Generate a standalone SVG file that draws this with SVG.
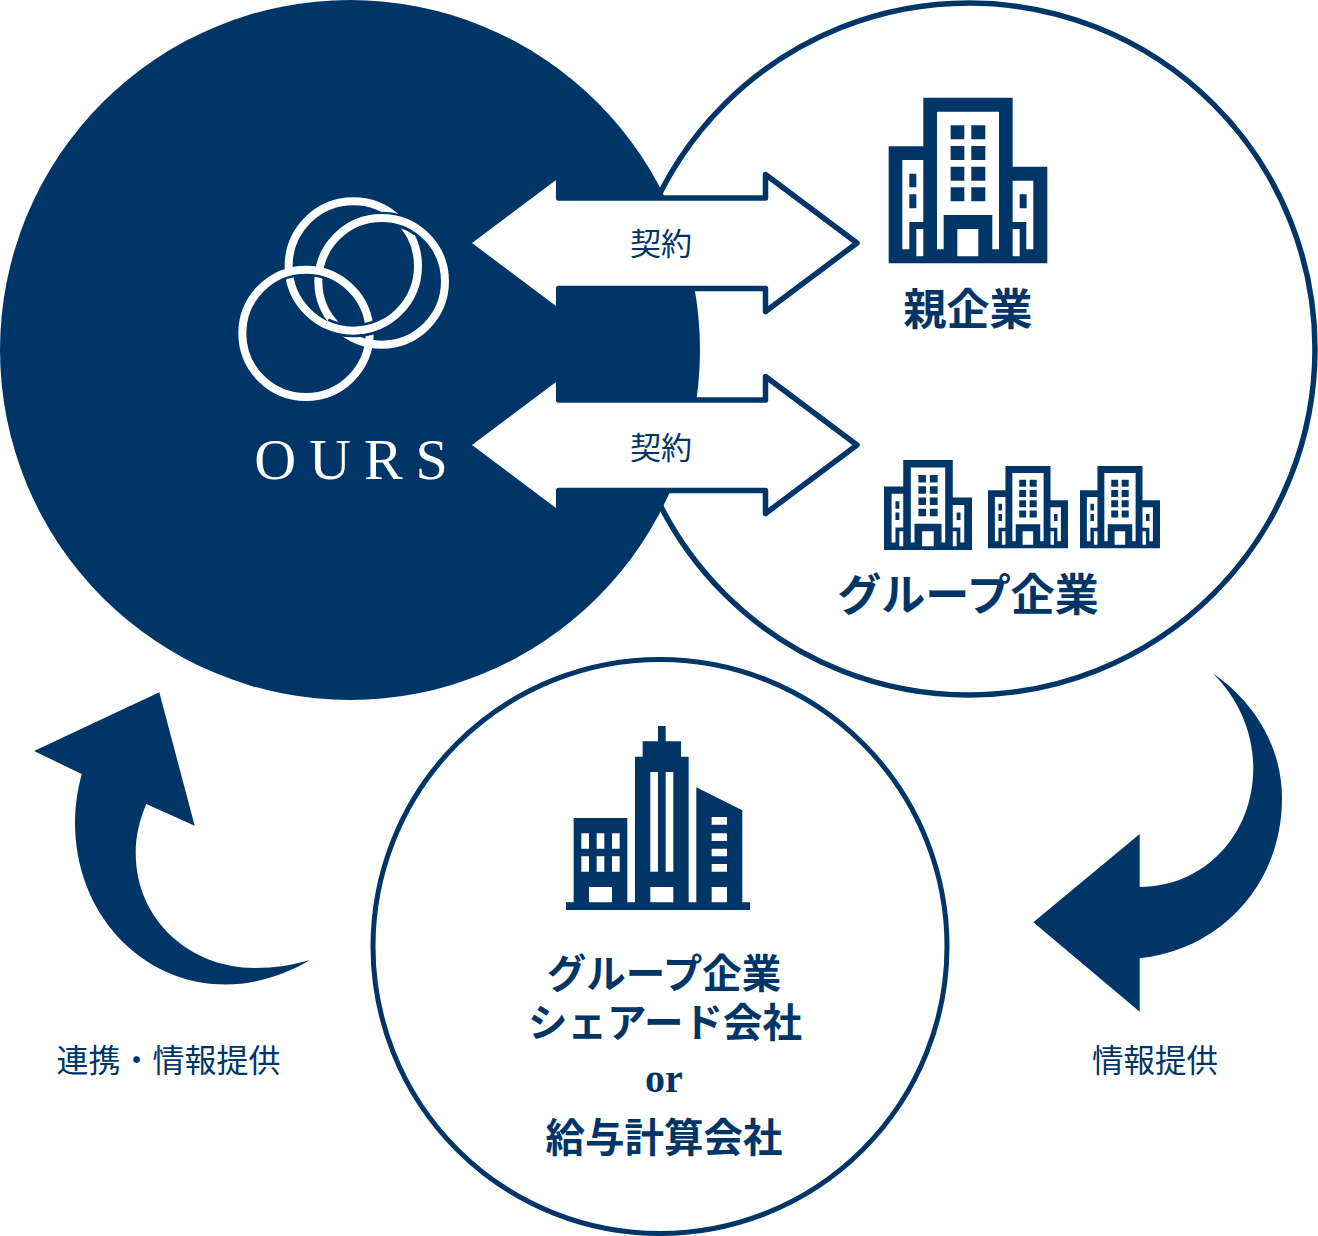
<svg xmlns="http://www.w3.org/2000/svg" width="1318" height="1236" viewBox="0 0 1318 1236">
<style>
.n{fill:#003567}
.ring{fill:none;stroke:#fff;stroke-width:24}
.halo{fill:none;stroke:#003567}
.lab{font-family:"Noto Sans CJK JP","Noto Sans CJK SC",sans-serif;fill:#003567;text-anchor:middle}
.b{font-weight:700}
.r{font-weight:400}
.dbl{fill:#fff;stroke:#003567;stroke-width:5.5;stroke-linejoin:round}
</style>
<defs>
<path id="office" fill-rule="evenodd" d="M160 38H428V245H532V535H56V184H160ZM201 80V493H221V390H367V493H387V80ZM242 121V163H283V121ZM304 121V163H346V121ZM242 183V225H283V183ZM304 183V225H346V183ZM242 245V287H283V245ZM304 245V287H346V245ZM242 307V349H283V307ZM304 307V349H346V307ZM262 432V514H325V432ZM97 225V493H118V411H160V225ZM118 266H139V307H118ZM118 328H139V370H118ZM139 432V514H160V432ZM428 287V411H469V493H490V287ZM449 328H470V370H449ZM428 432V514H449V432Z"/>
</defs>
<g id="node-partners">
<circle cx="969" cy="349" r="346" fill="#fff" stroke="#003567" stroke-width="5.5"/>
</g>
<g id="node-ours">
<circle class="n" cx="350" cy="350" r="350"/>
<g transform="translate(225 185) scale(.3333)">
<circle class="ring" cx="385" cy="243" r="194"/>
<path class="halo" stroke-width="40" d="M470 100A190 190 0 0 1 579 134"/>
<circle class="ring" cx="470" cy="289" r="190"/>
<path class="halo" stroke-width="30" d="M147 284A186 186 0 0 1 307 270"/>
<circle class="ring" cx="243" cy="445" r="191"/>
<path class="halo" stroke-width="40" d="M482 411A194 194 0 0 1 303 419"/>
<path class="ring" d="M482 411A194 194 0 0 1 303 419"/>
</g>
<text x="357.500" y="479" font-family="Liberation Serif,serif" font-size="58" letter-spacing="13" fill="#fff" text-anchor="middle">OURS</text>
</g>
<g id="connectors">
<g id="contract-parent">
<path class="dbl" d="M467.4 243L558.7 174.5V198H765.5V174.5L857 243L765.5 311.5V288.5H558.7V311.5Z"/>
<text class="lab r" x="661" y="255" font-size="31">契約</text>
</g>
<g id="contract-group">
<path class="dbl" d="M467.4 445L558.7 376.5V400H765.5V376.5L857 445L765.5 513.5V490.5H558.7V513.5Z"/>
<text class="lab r" x="661" y="459" font-size="31">契約</text>
</g>
<path id="info-arrow" class="n" d="M1212.7 673.3C1255 702 1282 748 1282 798C1282 885 1220 950 1139.7 958.300V1011.700L1033.300 922.300L1139.700 834V887C1204 887 1253.300 835 1253.300 768.300C1253.300 732 1238 698 1212.700 673.300Z"/>
<path id="link-arrow" class="n" d="M34 751L159.300 692.300L194.700 825.700L146.300 804C139.500 820 135.700 836 135.700 853C135.700 920 190 968 255 968C275 968 293 965 310 960C285 975 255 984.500 226 984.500C140 984.500 75 912 75 823C75 806 77.500 790 81.700 774Z"/>
</g>
<g id="node-parent">
<use href="#office" class="n" transform="translate(870 85) scale(.3333)"/>
<text class="lab b" x="968" y="325" font-size="43">親企業</text>
</g>
<g id="node-group">
<use href="#office" class="n" transform="translate(873.65 453.1) scale(.1849 .1811)"/>
<use href="#office" class="n" transform="translate(978.59 459.71) scale(.168 .1656)"/>
<use href="#office" class="n" transform="translate(1070.59 459.71) scale(.168 .1656)"/>
<text class="lab b" x="968" y="611" font-size="44">グループ企業</text>
</g>
<g id="node-shared">
<circle cx="660" cy="946.500" r="287" fill="#fff" stroke="#003567" stroke-width="5"/>
<g transform="translate(555 715) scale(.3333)">
<path class="n" fill-rule="evenodd" d="M309 33H332V79H378V125H401V562H424V217L562 286V562H585V585H33V562H56V309H217V562H240V125H263V79H309ZM79 355V401H102V355ZM125 355V401H148V355ZM171 355V401H194V355ZM79 424V470H102V424ZM125 424V470H148V424ZM171 424V470H194V424ZM102 516V562H171V516ZM286 171V470H309V171ZM332 171V470H355V171ZM286 516V562H355V516ZM470 306V329H516V306ZM470 355V378H516V355ZM470 401V424H516V401ZM470 447V470H516V447ZM470 516V562H516V516Z"/>
</g>
<text class="lab b" font-size="39.5"><tspan x="664" y="988">グループ企業</tspan><tspan x="665" y="1037">シェアード会社</tspan></text>
<text x="664" y="1092" font-family="Liberation Serif,serif" font-weight="700" font-size="40" fill="#003567" text-anchor="middle">or</text>
<text class="lab b" x="664" y="1152" font-size="39.5">給与計算会社</text>
</g>
<g id="labels">
<text class="lab r" x="168.500" y="1072" font-size="32">連携・情報提供</text>
<text class="lab r" x="1155" y="1072" font-size="31.500">情報提供</text>
</g>
</svg>
